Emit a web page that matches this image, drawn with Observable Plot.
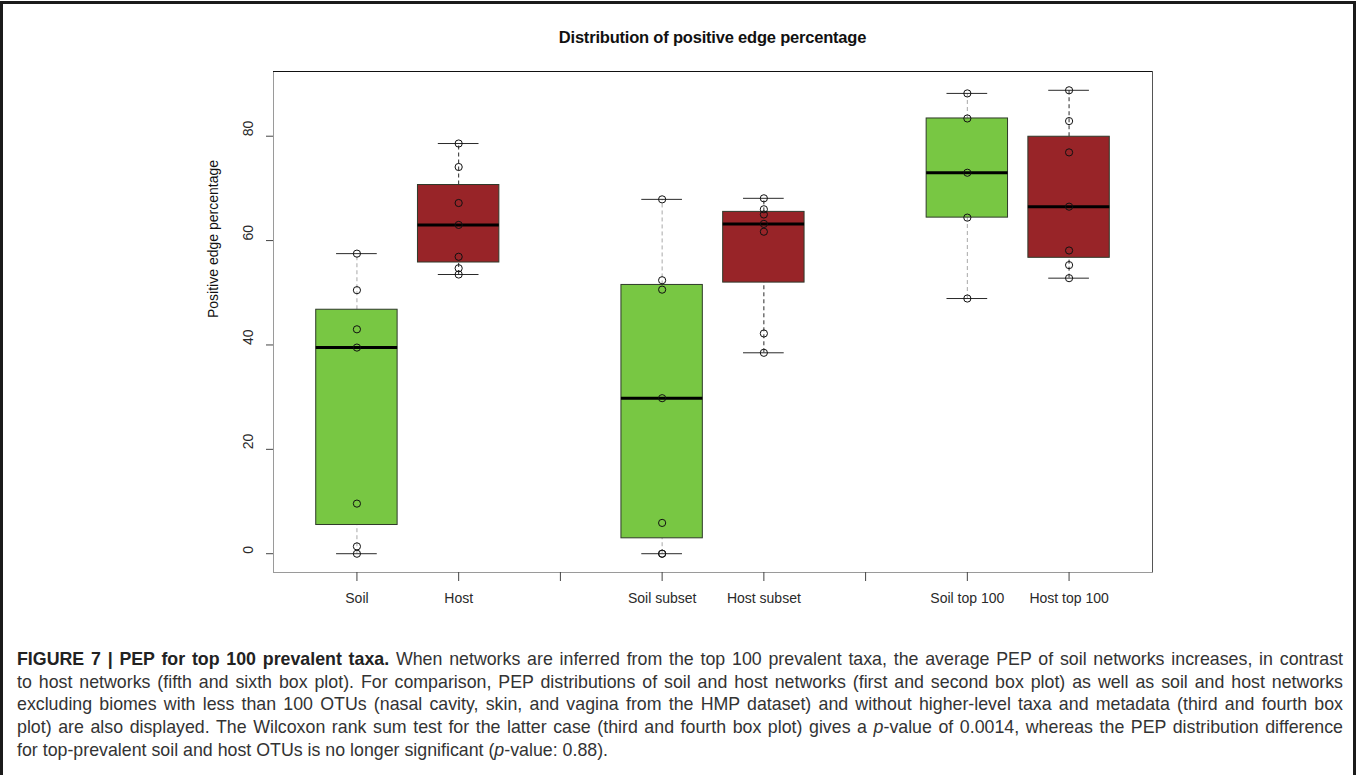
<!DOCTYPE html>
<html>
<head>
<meta charset="utf-8">
<script src="https://cdn.jsdelivr.net/npm/d3@7"></script>
<script src="https://cdn.jsdelivr.net/npm/@observablehq/plot@0.6"></script>
<style>
  html, body { margin: 0; padding: 0; background: #fff; }
  #wrap { position: relative; width: 1358px; height: 775px; overflow: hidden; }
  #border { position: absolute; left: 0; top: 1px; width: 1356px; height: 800px; box-sizing: border-box; border: 3px solid #1b1b1b; }
  #title { position: absolute; top: 28px; left: 273px; width: 879px; text-align: center;
    font-family: "Liberation Sans", Arial, sans-serif; font-weight: bold; font-size: 16.5px; letter-spacing: -0.2px; color: #111; }
  #chart { position: absolute; left: 0; top: 0; }
  #caption { position: absolute; left: 17px; top: 648px; width: 1326px;
    font-family: "Liberation Sans", Arial, sans-serif; font-size: 17.8px; color: #333; line-height: 22.7px; }
  #caption .l { white-space: nowrap; text-align: justify; text-align-last: justify; }
  #caption .l.last { text-align-last: left; }
  #caption b { color: #222; }
</style>
</head>
<body>
<div id="wrap">
  <div id="border"></div>
  <div id="chart"></div>
  <div id="title">Distribution of positive edge percentage</div>
  <div id="caption">
    <div class="l"><b>FIGURE 7 | PEP for top 100 prevalent taxa.</b> When networks are inferred from the top 100 prevalent taxa, the average PEP of soil networks increases, in contrast</div>
    <div class="l">to host networks (fifth and sixth box plot). For comparison, PEP distributions of soil and host networks (first and second box plot) as well as soil and host networks</div>
    <div class="l">excluding biomes with less than 100 OTUs (nasal cavity, skin, and vagina from the HMP dataset) and without higher-level taxa and metadata (third and fourth box</div>
    <div class="l">plot) are also displayed. The Wilcoxon rank sum test for the latter case (third and fourth box plot) gives a <i>p</i>-value of 0.0014, whereas the PEP distribution difference</div>
    <div class="l last">for top-prevalent soil and host OTUs is no longer significant (<i>p</i>-value: 0.88).</div>
  </div>
</div>
<script>
// ---- data ----
const categories = ["Soil", "Host", "", "Soil subset", "Host subset", "", "Soil top 100", "Host top 100"];
const tickPositions = [1, 2, 3, 4, 5, 6, 7, 8];
const yTicks = [0, 20, 40, 60, 80];

const soil = [0, 1.4, 9.6, 39.5, 43.0, 50.5, 57.5];
const host = [53.5, 54.7, 56.9, 63.0, 67.2, 74.1, 78.6];
const soilSubset = [0, 0, 5.9, 29.8, 50.6, 52.4, 67.9];
const hostSubset = [38.5, 42.2, 61.7, 63.2, 65.0, 66.0, 68.1];
const soilTop100 = [48.9, 64.4, 73.0, 83.4, 88.2];
const hostTop100 = [52.8, 55.3, 58.1, 66.5, 76.9, 82.9, 88.8];

const groups = [
  {label: "Soil", kind: "soil", values: soil},
  {label: "Host", kind: "host", values: host},
  {label: "Soil subset", kind: "soil", values: soilSubset},
  {label: "Host subset", kind: "host", values: hostSubset},
  {label: "Soil top 100", kind: "soil", values: soilTop100},
  {label: "Host top 100", kind: "host", values: hostTop100}
];

const fillColor = {soil: "#78c743", host: "#982428"};
const whiskerColor = {soil: "#a8a8a8", host: "#2a2a2a"};

// Tukey five-number summary (as R boxplot)
function fivenum(v) {
  const x = v.slice().sort((a, b) => a - b);
  const n = x.length;
  const n4 = Math.floor((n + 3) / 2) / 2;
  const d = [1, n4, (n + 1) / 2, n + 1 - n4, n];
  return d.map(k => 0.5 * (x[Math.floor(k) - 1] + x[Math.ceil(k) - 1]));
}

const stats = groups.map(g => {
  const pos = categories.indexOf(g.label) + 1;
  const [mn, q1, med, q3, mx] = fivenum(g.values);
  const iqr = q3 - q1;
  const inside = g.values.filter(v => v >= q1 - 1.5 * iqr && v <= q3 + 1.5 * iqr);
  return {pos, kind: g.kind, q1, med, q3, lo: d3.min(inside), hi: d3.max(inside)};
});

const points = groups.flatMap(g => {
  const pos = categories.indexOf(g.label) + 1;
  return g.values.map(value => ({pos, value}));
});

const chart = Plot.plot({
  width: 1358,
  height: 630,
  marginLeft: 273,
  marginRight: 206,
  marginTop: 71,
  marginBottom: 58,
  x: {domain: [0.18, 8.82]},
  y: {domain: [-3.6, 92.4]},
  style: {fontFamily: "'Liberation Sans', Arial, sans-serif", fontSize: "14px", color: "#2a2a2a", background: "transparent"},
  marks: [
    Plot.ruleX(stats, {x: "pos", y1: "q3", y2: "hi", stroke: d => whiskerColor[d.kind], strokeDasharray: "4,3"}),
    Plot.ruleX(stats, {x: "pos", y1: "lo", y2: "q1", stroke: d => whiskerColor[d.kind], strokeDasharray: "4,3"}),
    Plot.ruleY(stats, {y: "hi", x1: d => d.pos - 0.2, x2: d => d.pos + 0.2, stroke: "#2a2a2a"}),
    Plot.ruleY(stats, {y: "lo", x1: d => d.pos - 0.2, x2: d => d.pos + 0.2, stroke: "#2a2a2a"}),
    Plot.rect(stats, {x1: d => d.pos - 0.4, x2: d => d.pos + 0.4, y1: "q1", y2: "q3", fill: d => fillColor[d.kind], stroke: "#2f3a2a", strokeWidth: 1}),
    Plot.ruleY(stats, {y: "med", x1: d => d.pos - 0.4, x2: d => d.pos + 0.4, stroke: "#000", strokeWidth: 3}),
    Plot.dot(points, {x: "pos", y: "value", r: 3.6, stroke: "#111", fill: "none", strokeWidth: 1}),
    Plot.frame({stroke: "#9a9a9a"}),
    Plot.ruleY([92.4], {stroke: "#111"}),
    Plot.ruleX([8.82], {stroke: "#555"}),
    Plot.axisX({ticks: tickPositions, tickFormat: i => categories[i - 1], tickSize: 9, tickPadding: 12, fontSize: 14, stroke: "#444", label: null}),
    Plot.axisY({ticks: yTicks, tickSize: 7, tickFormat: () => "", stroke: "#444", label: null}),
    Plot.text(yTicks, {y: d => d, text: d => String(d), frameAnchor: "left", dx: -25, rotate: -90, fontSize: 14, fill: "#2a2a2a"}),
    Plot.text(["Positive edge percentage"], {frameAnchor: "left", dx: -60, dy: -4, rotate: -90, fontSize: 14, fill: "#111"})
  ]
});
document.getElementById("chart").appendChild(chart);
</script>
</body>
</html>
